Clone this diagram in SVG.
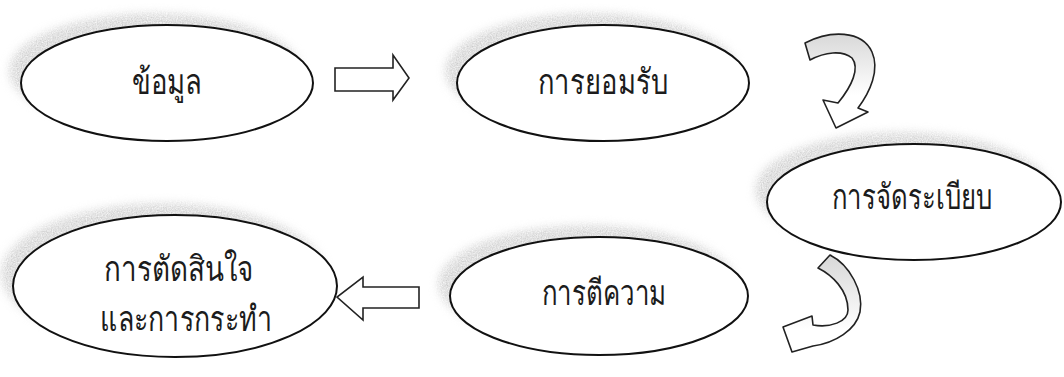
<svg xmlns="http://www.w3.org/2000/svg" width="1064" height="377" viewBox="0 0 1064 377">
<style>
.node{fill:#fff;stroke:#111;stroke-width:2}
.shadow{fill:#c2c2c2;filter:url(#grain)}
.lbl{font-family:'Liberation Serif','Noto Sans',serif;font-size:35px;fill:#1c1c1c;text-anchor:middle}
.lft{text-anchor:start}
.blk{fill:#fff;stroke:#222;stroke-width:1.6;stroke-linejoin:miter}
.curl{stroke:#222;stroke-width:1.6;stroke-linejoin:round}
</style>
<defs>
<filter id="grain" x="-20%" y="-30%" width="140%" height="160%">
<feGaussianBlur in="SourceGraphic" stdDeviation="4" result="b"/>
<feTurbulence type="fractalNoise" baseFrequency="0.8" numOctaves="2" seed="4" result="t"/>
<feComposite in="b" in2="t" operator="in"/>
</filter>
<linearGradient id="g1" gradientUnits="userSpaceOnUse" x1="0" y1="35" x2="0" y2="95">
<stop offset="0" stop-color="#d9d9d9"/><stop offset="1" stop-color="#fff"/>
</linearGradient>
<linearGradient id="g2" gradientUnits="userSpaceOnUse" x1="0" y1="258" x2="0" y2="330">
<stop offset="0" stop-color="#d9d9d9"/><stop offset="1" stop-color="#fff"/>
</linearGradient>
</defs>
<rect width="1064" height="377" fill="#fff"/>

<g id="node-data">
<ellipse class="shadow" cx="155" cy="71" rx="146" ry="58"/>
<ellipse class="node" cx="167" cy="83" rx="146" ry="58"/>
<text class="lbl" x="167" y="94" textLength="70" lengthAdjust="spacingAndGlyphs">ข้อมูล</text>
</g>
<g id="node-accept">
<ellipse class="shadow" cx="591" cy="71" rx="146" ry="58"/>
<ellipse class="node" cx="603" cy="83" rx="146" ry="58"/>
<text class="lbl" x="603" y="94" textLength="130" lengthAdjust="spacingAndGlyphs">การยอมรับ</text>
</g>
<g id="node-organize">
<ellipse class="shadow" cx="902" cy="190" rx="147" ry="58"/>
<ellipse class="node" cx="914" cy="202" rx="147" ry="58"/>
<text class="lbl" x="912" y="209" textLength="161" lengthAdjust="spacingAndGlyphs">การจัดระเบียบ</text>
</g>
<g id="node-interpret">
<ellipse class="shadow" cx="587" cy="284" rx="149" ry="59"/>
<ellipse class="node" cx="599" cy="296" rx="149" ry="59"/>
<text class="lbl" x="604" y="305" textLength="125" lengthAdjust="spacingAndGlyphs">การตีความ</text>
</g>
<g id="node-decide">
<ellipse class="shadow" cx="163" cy="274" rx="162" ry="71"/>
<ellipse class="node" cx="175" cy="286" rx="162" ry="71"/>
<text class="lbl lft" x="104" y="281" textLength="150" lengthAdjust="spacingAndGlyphs">การตัดสินใจ</text>
<text class="lbl lft" x="100" y="331" textLength="172" lengthAdjust="spacingAndGlyphs">และการกระทำ</text>
</g>

<g id="connectors">
<path class="blk" d="M335,68 H393 V55 L409,78 L393,100 V91 H335 Z"/>
<path class="curl" fill="url(#g1)" d="M805,43 C830,30 862,30 872,52 C880,70 870,92 858,108 L868,112 L836,128 L823,100 L838,103 C852,86 860,68 852,58 C842,50 825,52 810,60 Z"/>
<path class="curl" fill="url(#g2)" d="M830,255 C850,265 864,292 860,312 C856,330 835,343 813,346 L792,352 L783,327 L812,316 L813,325 C830,328 848,322 848,310 C848,290 832,275 818,268 Z"/>
<path class="blk" d="M419,287 H363 V277 L337,297 L363,320 V308 H419 Z"/>
</g>
</svg>
